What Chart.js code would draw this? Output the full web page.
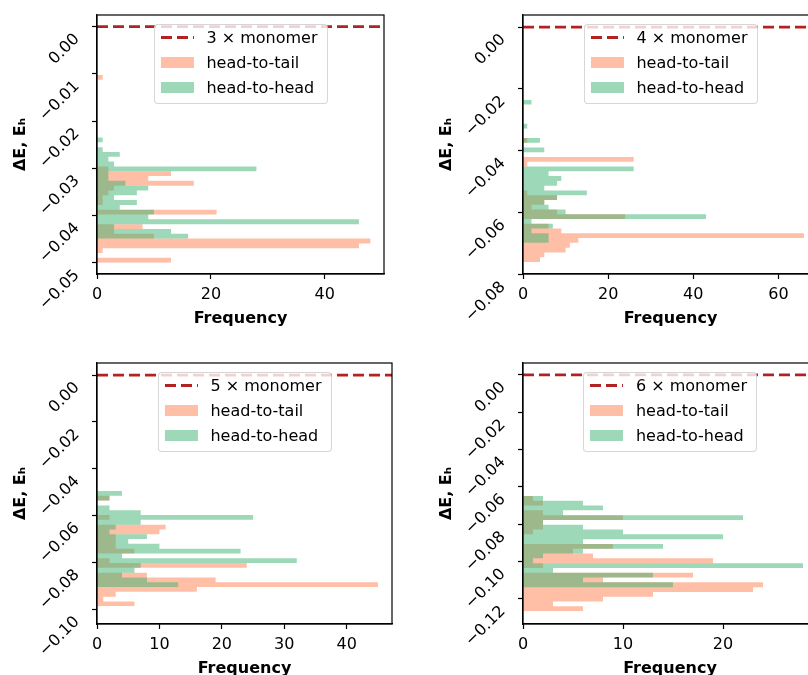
<!DOCTYPE html>
<html>
<head>
<meta charset="utf-8">
<title>Interaction energy histograms</title>
<script src="https://cdn.jsdelivr.net/npm/chart.js@4/dist/chart.umd.min.js"></script>
<style>
html, body { margin: 0; padding: 0; background: #fff; }
body { width: 808px; height: 675px; position: relative; overflow: hidden; font-family: "DejaVu Sans", sans-serif; }
canvas { position: absolute; }
.legend { position: absolute; transform: translateX(-50%); background: rgba(255,255,255,0.8); border: 1px solid rgba(204,204,204,0.8); border-radius: 4px; padding: 0 9px 3px 6px; font-size: 16px; color: #000; }
.legend .item { display: flex; align-items: center; height: 25px; white-space: nowrap; }
.legend .handle { display: block; width: 33px; margin-right: 13px; flex: none; }
</style>
</head>
<body>
<canvas id="chart3"></canvas>
<canvas id="chart4"></canvas>
<canvas id="chart5"></canvas>
<canvas id="chart6"></canvas>
<script>
// number of monomers, one panel each
const sizes = [3, 4, 5, 6];

// bins: upper edge of the first bin and bin height (Hartree)
const binTop = [-0.01023, -0.02351, -0.04949, -0.06482];
const binHeight = [0.001019, 0.001541, 0.002051, 0.002571];

// counts per bin, top bin first
const headToTail3 = [1, 0,0,0,0,0,0,0,0,0,0,0,0, 0,0,0,0,0,0,
  2,13,9,17,3,2,1,1,0,21,0,0,8,3,10,48,46,1,0,13];
const headToHead3 = [0,0,0,0,0,0,0,0,0,0,0,0,0,
  1,0,1,4,2,3,28,2,2,5,9,7,3,7,4,10,9,46,3,13,16,0,0,0,0,0];

const headToTail4 = [0,0,0,0,0,0,0,0,1,0,0,0, 26,1,0,0,0,0,0,
  1,8,5,2,8,24,0,6,9,66,13,11,10,5,4];
const headToHead4 = [2,0,0,0,0,1,0,0,4,0,5,0,0,0,
  26,6,9,8,5,15,8,5,6,10,43,2,7,2,6,6, 0,0,0,0];

const headToTail5 = [0,2,0,0,0,2,0,11,10,3,3,3,6,0,2,24,0,8,19,45,16,3,1,6];
const headToHead5 = [4,2,0,2,7,25,7,3,2,8,5,10,23,4,32,7,6,4,8,13,0,0,0,0];

const headToTail6 = [1,2,0,2,10,2,2,1,0,0,9,5,7,19,2,0,17,8,24,23,13,8,3,6];
const headToHead6 = [2,6,8,4,22,2,6,10,20,6,14,6,2,1,28,3,13,6,15,0,0,0,0,0];

// energy of the separated monomers (dashed line)
const monomerEnergy = 0;

// tick labels
const energyTicks3 = [0, -0.01, -0.02, -0.03, -0.04, -0.05];
const energyTicks4 = [0, -0.02, -0.04, -0.06, -0.08];
const energyTicks5 = [0, -0.02, -0.04, -0.06, -0.08, -0.10];
const energyTicks6 = [0, -0.02, -0.04, -0.06, -0.08, -0.10, -0.12];
const freqTicks3 = [0, 20, 40];
const freqTicks4 = [0, 20, 40, 60];
const freqTicks5 = [0, 10, 20, 30, 40];
const freqTicks6 = [0, 10, 20];

const headToTail = [headToTail3, headToTail4, headToTail5, headToTail6];
const headToHead = [headToHead3, headToHead4, headToHead5, headToHead6];
const energyTicks = [energyTicks3, energyTicks4, energyTicks5, energyTicks6];
const freqTicks = [freqTicks3, freqTicks4, freqTicks5, freqTicks6];

// axis limits
const energyLimits = [[-0.05238, 0.00248], [-0.0798, 0.0039], [-0.1063, 0.0052], [-0.1334, 0.0064]];
const freqMax = [50.4, 69.3, 47.25, 29.4];

// where each canvas sits on the page and the size of its plot area
const boxes = [
  {left: 0, top: 5, w: 287, h: 259},
  {left: 426, top: 5, w: 295, h: 259},
  {left: 0, top: 353, w: 295, h: 261},
  {left: 426, top: 353, w: 294, h: 261},
];
const yAxisWidth = 97, xAxisHeight = 60, padTop = 10, padRight = 5;

Chart.defaults.font.family = '"DejaVu Sans", sans-serif';
Chart.defaults.color = '#000';

// one step per bin, closed back to zero at the lowest edge
function histPoints(counts, top, height) {
  const pts = counts.map((c, i) => ({x: c, y: top - i * height}));
  pts.push({x: 0, y: top - counts.length * height});
  return pts;
}

function fmtEnergy(v) {
  return (v < -1e-9 ? '\u2212' : '') + Math.abs(v).toFixed(2);
}

// top and right spines
const frame = {
  id: 'frame',
  afterDatasetsDraw(chart) {
    const {ctx, chartArea: a} = chart;
    ctx.save();
    ctx.strokeStyle = '#000';
    ctx.lineWidth = 1.2;
    ctx.strokeRect(a.left, a.top, a.right - a.left, a.bottom - a.top);
    ctx.restore();
  }
};

function buildLegend(chart, box) {
  const div = document.createElement('div');
  div.className = 'legend';
  chart.data.datasets.forEach(ds => {
    const item = document.createElement('div');
    item.className = 'item';
    const handle = document.createElement('span');
    handle.className = 'handle';
    if (ds.borderDash) {
      const on = ds.borderDash[0], off = ds.borderDash[1];
      handle.style.height = ds.borderWidth + 'px';
      handle.style.background = 'repeating-linear-gradient(to right, ' + ds.borderColor + ' 0 ' + on + 'px, transparent ' + on + 'px ' + (on + off) + 'px)';
    } else {
      handle.style.height = '11px';
      handle.style.background = ds.backgroundColor;
    }
    const text = document.createElement('span');
    text.textContent = ds.label;
    item.append(handle, text);
    div.appendChild(item);
  });
  const a = chart.chartArea;
  div.style.left = (box.left + (a.left + a.right) / 2) + 'px';
  div.style.top = (box.top + a.top + 9) + 'px';
  document.body.appendChild(div);
}

sizes.forEach((n, k) => {
  const box = boxes[k];
  const canvas = document.getElementById('chart' + n);
  canvas.width = yAxisWidth + box.w + padRight;
  canvas.height = padTop + box.h + xAxisHeight;
  canvas.style.left = box.left + 'px';
  canvas.style.top = box.top + 'px';

  const chart = new Chart(canvas, {
    type: 'line',
    data: {
      datasets: [
        {
          label: n + ' \u00d7 monomer',
          data: [{x: 0, y: monomerEnergy}, {x: freqMax[k], y: monomerEnergy}],
          indexAxis: 'y',
          borderColor: '#b22222',
          borderWidth: 2.8,
          borderDash: [11, 5],
          fill: false,
          pointRadius: 0,
          order: 0
        },
        {
          label: 'head-to-tail',
          data: histPoints(headToTail[k], binTop[k], binHeight[k]),
          indexAxis: 'y',
          stepped: 'after',
          fill: 'origin',
          backgroundColor: 'rgba(255,127,80,0.5)',
          borderColor: 'rgba(0,0,0,0)',
          borderWidth: 0,
          pointRadius: 0,
          order: 2
        },
        {
          label: 'head-to-head',
          data: histPoints(headToHead[k], binTop[k], binHeight[k]),
          indexAxis: 'y',
          stepped: 'after',
          fill: 'origin',
          backgroundColor: 'rgba(60,179,113,0.5)',
          borderColor: 'rgba(0,0,0,0)',
          borderWidth: 0,
          pointRadius: 0,
          order: 1
        }
      ]
    },
    options: {
      responsive: false,
      animation: false,
      devicePixelRatio: 1,
      indexAxis: 'y',
      events: [],
      layout: {padding: {top: padTop, right: padRight, bottom: 0, left: 0}},
      plugins: {legend: {display: false}, tooltip: {enabled: false}},
      scales: {
        x: {
          type: 'linear',
          position: 'bottom',
          min: 0,
          max: freqMax[k],
          afterBuildTicks: s => { s.ticks = freqTicks[k].map(v => ({value: v})); },
          afterFit: s => { s.height = xAxisHeight; s.paddingLeft = 0; s.paddingRight = 0; },
          grid: {drawOnChartArea: false, drawTicks: true, tickLength: 5, tickColor: '#000', tickWidth: 1.2},
          border: {display: true, color: '#000', width: 1.2},
          ticks: {autoSkip: false, maxRotation: 0, padding: 6, font: {size: 16}, color: '#000'},
          title: {display: true, text: 'Frequency', color: '#000', font: {size: 16, weight: 'bold', lineHeight: 1.2}, padding: {top: 0, bottom: 6}}
        },
        y: {
          type: 'linear',
          position: 'left',
          min: energyLimits[k][0],
          max: energyLimits[k][1],
          afterBuildTicks: s => { s.ticks = energyTicks[k].map(v => ({value: v})); },
          afterFit: s => { s.width = yAxisWidth; s.paddingTop = 0; s.paddingBottom = 0; },
          grid: {drawOnChartArea: false, drawTicks: true, tickLength: 5, tickColor: '#000', tickWidth: 1.2},
          border: {display: true, color: '#000', width: 1.2},
          ticks: {
            autoSkip: false, minRotation: 45, maxRotation: 45, padding: 15, labelOffset: 10,
            font: {size: 16}, color: '#000',
            callback: v => fmtEnergy(v)
          },
          title: {display: true, text: '\u0394E, E\u2095', color: '#000', font: {size: 16, weight: 'bold', lineHeight: 1.2}, padding: {top: 11, bottom: 0}}
        }
      }
    },
    plugins: [frame]
  });

  buildLegend(chart, box);
});
</script>
</body>
</html>
